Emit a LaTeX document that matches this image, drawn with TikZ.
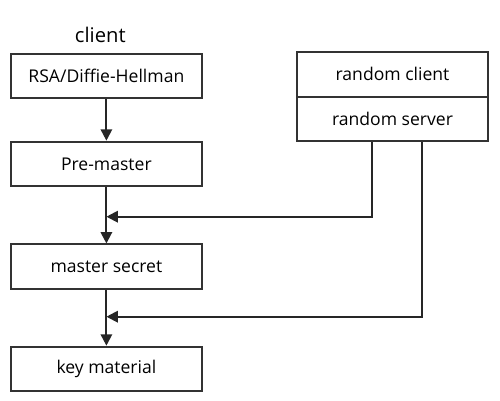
\documentclass[tikz,border=0pt]{standalone}
\usepackage{fontspec}
\setmainfont{Open Sans}
\usetikzlibrary{arrows.meta,positioning}

\begin{document}
\begin{tikzpicture}[x=0.02cm,y=-0.02cm,
  box/.style={draw=black!80, line width=1.1pt, minimum width=3.81cm,
    minimum height=0.89cm, inner sep=0pt, font=\fontsize{10}{12}\selectfont},
  flow/.style={draw=black!85, line width=1.1pt, -{Triangle[length=6.5pt,width=6.5pt]}}]
\useasboundingbox (0,0) rectangle (500,401);

%client side
\node[font=\fontsize{11.5}{14}\selectfont] (client) at (100.3,35) {client};
\node[box] (rsa) at (106.4,75.8) {RSA/Diffie-Hellman};
\node[box] (pre) at (106.4,163.9) {Pre-master};
\node[box] (master) at (106.4,266.7) {master secret};
\node[box] (key) at (106.4,368.9) {key material};

%randoms
\node[box, minimum height=0.9cm] (rclient) at (392.5,74.2) {random client};
\node[box, below=-1.1pt of rclient] (rserver) {random server};

\coordinate (join1) at (106.4,216.7);
\coordinate (join2) at (106.4,316.7);

\draw[flow] (rsa) -- (pre);
\draw[flow] (pre) -- (master);
\draw[flow] (master) -- (key);
\draw[flow] ([xshift=-0.416cm]rserver.south) |- (join1);
\draw[flow] ([xshift=0.584cm]rserver.south) |- (join2);

\end{tikzpicture}
\end{document}
